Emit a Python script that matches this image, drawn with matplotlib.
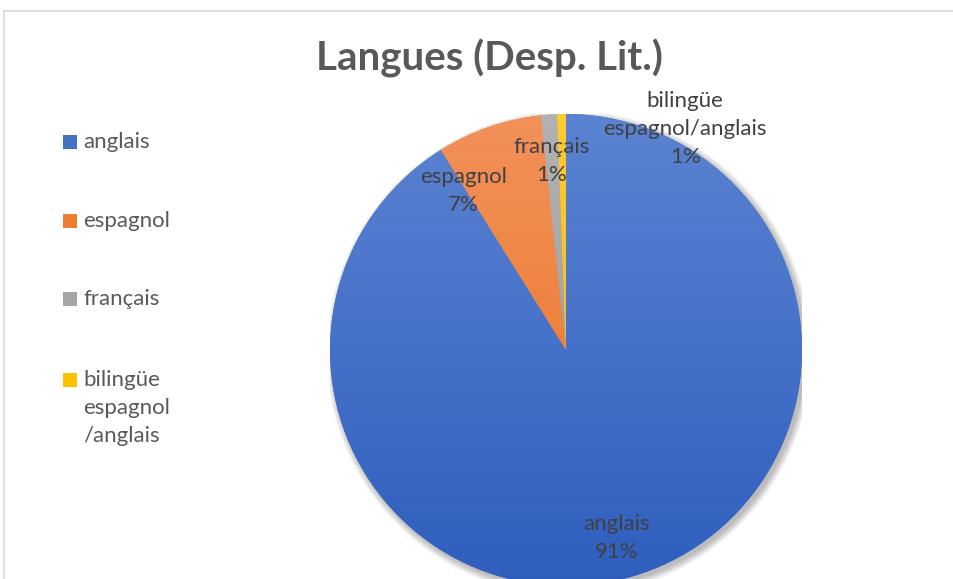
import numpy as np
import matplotlib.pyplot as plt
from matplotlib.colors import LinearSegmentedColormap
from matplotlib.patches import Rectangle, Circle
from matplotlib.lines import Line2D

plt.rcParams['font.family'] = ['Lato', 'DejaVu Sans']

# Data
categories = ["anglais", "espagnol", "français", "bilingüe\nespagnol/anglais"]
legend_labels = ["anglais", "espagnol", "français", "bilingüe\nespagnol\n/anglais"]
shares = [91.1, 7.2, 1.1, 0.6]
colors = ["#4472C4", "#ED7D31", "#A5A5A5", "#FFC000"]
tops = ["#5B83D2", "#F3915A", "#B2B2B2", "#FFCB30"]
bottoms = ["#2F5EBE", "#E8711F", "#949494", "#F2B400"]

# label positions (pie units) and legend rows (pixels from top)
label_pos = [(0.216, -0.795), (-0.436, 0.675), (-0.06, 0.80), (0.505, 0.935)]
legend_rows = [142, 221, 299, 380]

W, H = 954, 579
fig = plt.figure(figsize=(W / 100, H / 100), dpi=100)

# chart frame
fig.add_artist(Line2D([4 / W, 1], [1 - 11 / H, 1 - 11 / H], color="#D9D9D9", lw=1.2))
fig.add_artist(Line2D([4 / W, 4 / W], [1 - 11 / H, 0], color="#D9D9D9", lw=1.2))

# pie axes: centre (566, 350) px, radius 236 px
cx, cy, R = 566, 350, 236
ax = fig.add_axes([(cx - R) / W, (H - cy - R) / H, 2 * R / W, 2 * R / H])
ax.set_axis_off()

# soft shadow
for k in range(8):
    ax.add_patch(Circle((0.012, -0.014), 1.0 + k * 0.004, color="black",
                        alpha=0.035, lw=0, zorder=0))

wedges, _ = ax.pie(shares, startangle=90, counterclock=False, colors=colors,
                   radius=1, wedgeprops=dict(lw=0))

# excel-like vertical gradient in each slice
grad = np.linspace(0, 1, 256).reshape(-1, 1)
for w, t, b in zip(wedges, tops, bottoms):
    cmap = LinearSegmentedColormap.from_list("g", [b, t])
    im = ax.imshow(grad, extent=[-1, 1, -1, 1], origin="lower", cmap=cmap,
                   aspect="auto", zorder=2)
    im.set_clip_path(w)

ax.set_xlim(-1, 1)
ax.set_ylim(-1, 1)

# data labels
for (x, y), cat, v in zip(label_pos, categories, shares):
    ax.text(x, y, f"{cat}\n{v:.0f}%", ha="center", va="center", fontsize=16,
            color="#404040", linespacing=1.5, zorder=5, clip_on=False)

# title
fig.text(489 / W, 1 - 58 / H, "Langues (Desp. Lit.)", ha="center", va="center",
         fontsize=29, fontweight="bold", color="#595959")

# legend
for row, lab, c in zip(legend_rows, legend_labels, colors):
    fig.add_artist(Rectangle((63 / W, 1 - (row + 7) / H), 14 / W, 14 / H,
                             color=c, lw=0))
    fig.text(83 / W, 1 - (row - 10) / H, lab, ha="left", va="top", fontsize=16,
             color="#595959", linespacing=1.5)

fig.savefig("out.png", dpi=100, facecolor="white")
